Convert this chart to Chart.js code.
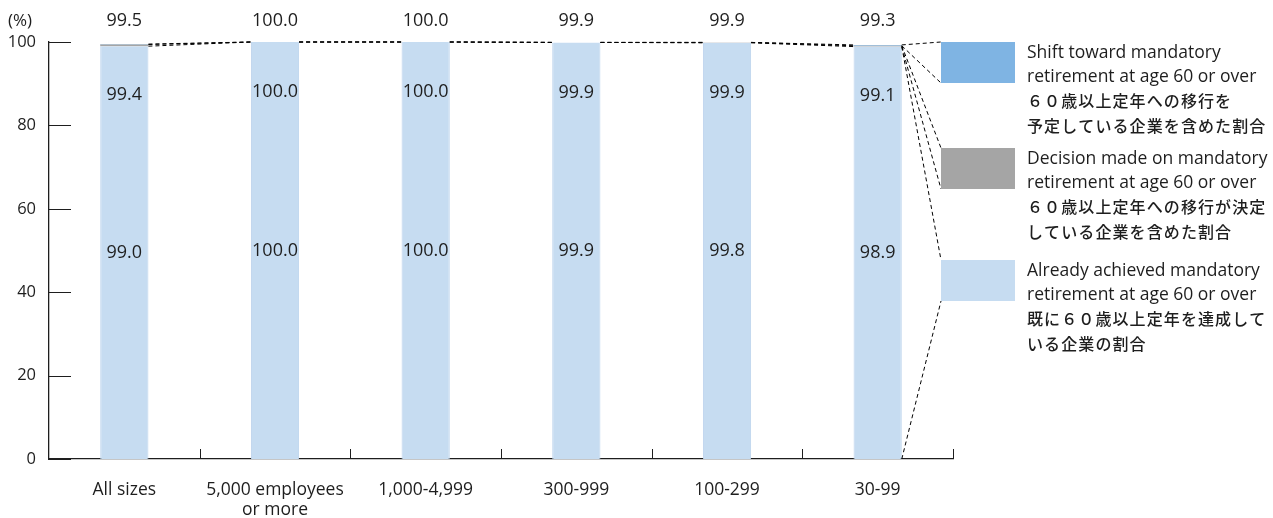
<!DOCTYPE html>
<html>
<head>
<meta charset="utf-8">
<script src="https://cdn.jsdelivr.net/npm/chart.js@4.4.1/dist/chart.umd.min.js"></script>
<style>
  html, body { margin: 0; padding: 0; background: #ffffff; }
  #wrap { width: 1273px; height: 518px; position: relative; }
</style>
</head>
<body>
<div id="wrap"><canvas id="chart" width="1273" height="518"></canvas></div>
<script>
// Company size categories
const categories = ['All sizes', ['5,000 employees', 'or more'], '1,000-4,999', '300-999', '100-299', '30-99'];

// Share of companies (%), cumulative as published
const achieved     = [99.0, 100.0, 100.0, 99.9, 99.8, 98.9]; // already at 60 or over
const decidedTotal = [99.4, 100.0, 100.0, 99.9, 99.9, 99.1]; // incl. decision made
const shiftTotal   = [99.5, 100.0, 100.0, 99.9, 99.9, 99.3]; // incl. planned shift

// Stack increments derived from the cumulative figures
const decidedPart = decidedTotal.map((v, i) => +(v - achieved[i]).toFixed(1));
const shiftPart   = shiftTotal.map((v, i) => +(v - decidedTotal[i]).toFixed(1));

const yTicks = [0, 20, 40, 60, 80, 100];

const legendText = {
  shift:    ['Shift toward mandatory', 'retirement at age 60 or over', '６０歳以上定年への移行を', '予定している企業を含めた割合'],
  decided:  ['Decision made on mandatory', 'retirement at age 60 or over', '６０歳以上定年への移行が決定', 'している企業を含めた割合'],
  achieved: ['Already achieved mandatory', 'retirement at age 60 or over', '既に６０歳以上定年を達成して', 'いる企業の割合']
};

const COL_LIGHT = '#c6dcf1';
const COL_GREY  = '#a5a5a5';
const COL_BLUE  = '#7fb4e3';
const INK = '#1e1e1e';
const LATIN = '"Open Sans", "Noto Sans", sans-serif';
const CJK = '"Noto Sans CJK JP", "Noto Sans", sans-serif';

function isCJK(s) { return /[\u3000-\u9fff\uff00-\uffef]/.test(s); }

const decorPlugin = {
  id: 'decor',
  afterDatasetsDraw(chart) {
    const ctx = chart.ctx;
    const area = chart.chartArea;
    const ys = chart.scales.y;
    const metas = [0, 1, 2].map(k => chart.getDatasetMeta(k));
    const n = categories.length;
    ctx.save();

    // dashed connectors between neighbouring bars at each stack boundary
    ctx.strokeStyle = '#000';
    ctx.lineWidth = 1;
    ctx.setLineDash([4, 3]);
    for (let i = 0; i < n - 1; i++) {
      for (let k = 0; k < 3; k++) {
        const a = metas[k].data[i], b = metas[k].data[i + 1];
        ctx.beginPath();
        ctx.moveTo(a.x + a.width / 2, a.y);
        ctx.lineTo(b.x - b.width / 2, b.y);
        ctx.stroke();
      }
    }

    // legend boxes and the fan of dashed lines from the last bar
    const boxX = area.right - 12, boxW = 74, boxH = 41;
    const boxTops = [area.top, area.top + 106, area.top + 218];
    const last = n - 1;
    const barR = metas[0].data[last].x + metas[0].data[last].width / 2;
    const yShift = metas[2].data[last].y;
    const yDec = metas[1].data[last].y;
    const yAch = metas[0].data[last].y;
    const y0 = ys.getPixelForValue(0);
    const fan = [
      [yShift, boxTops[0]], [yDec, boxTops[0] + boxH],
      [yDec, boxTops[1]], [yAch, boxTops[1] + boxH],
      [yAch, boxTops[2]], [y0, boxTops[2] + boxH]
    ];
    fan.forEach(([from, to]) => {
      ctx.beginPath();
      ctx.moveTo(barR, from);
      ctx.lineTo(boxX, to);
      ctx.stroke();
    });
    ctx.setLineDash([]);

    const entries = [
      [chart.data.datasets[2].backgroundColor, legendText.shift],
      [chart.data.datasets[1].backgroundColor, legendText.decided],
      [chart.data.datasets[0].backgroundColor, legendText.achieved]
    ];
    entries.forEach(([col, lines], j) => {
      ctx.fillStyle = col;
      ctx.fillRect(boxX, boxTops[j], boxW, boxH);
      lines.forEach((t, li) => {
        const cjk = isCJK(t);
        ctx.font = cjk ? '500 16px ' + CJK : '17.5px ' + LATIN;
        ctx.letterSpacing = cjk ? '1.1px' : '0px';
        ctx.fillStyle = INK;
        ctx.textAlign = 'left';
        ctx.textBaseline = 'middle';
        ctx.fillText(t, boxX + 86, boxTops[j] + 11 + li * 24.2);
      });
    });
    ctx.letterSpacing = '0px';

    // value labels
    ctx.font = '18px ' + LATIN;
    ctx.fillStyle = INK;
    ctx.textAlign = 'center';
    ctx.textBaseline = 'middle';
    for (let i = 0; i < n; i++) {
      const x = metas[0].data[i].x;
      ctx.fillText(shiftTotal[i].toFixed(1), x, area.top - 21);
      ctx.fillText(decidedTotal[i].toFixed(1), x, metas[1].data[i].y + 50);
      ctx.fillText(achieved[i].toFixed(1), x, ys.getPixelForValue(achieved[i] / 2));
    }

    // unit
    ctx.font = '17px ' + LATIN;
    ctx.textAlign = 'left';
    ctx.fillText('(%)', 8, area.top - 21);

    // axes: y tick marks point inward, x tick marks point up at category boundaries
    ctx.strokeStyle = INK;
    ctx.lineWidth = 1;
    yTicks.forEach(v => {
      const y = Math.round(ys.getPixelForValue(v)) + 0.5;
      ctx.beginPath();
      ctx.moveTo(area.left, y);
      ctx.lineTo(area.left + 22, y);
      ctx.stroke();
    });
    const xs = chart.scales.x;
    for (let i = 0; i < n; i++) {
      const bx = i < n - 1 ? (xs.getPixelForValue(i) + xs.getPixelForValue(i + 1)) / 2 : area.right;
      const px = Math.round(bx) + 0.5;
      ctx.beginPath();
      ctx.moveTo(px, area.bottom);
      ctx.lineTo(px, area.bottom - 10);
      ctx.stroke();
    }
    ctx.restore();
  }
};

new Chart(document.getElementById('chart'), {
  type: 'bar',
  data: {
    labels: categories,
    datasets: [
      { label: 'Already achieved', data: achieved, backgroundColor: COL_LIGHT, borderColor: '#bcd3ec', borderWidth: { left: 1, right: 1, top: 0, bottom: 0 } },
      { label: 'Decision made', data: decidedPart, backgroundColor: COL_GREY, borderWidth: 0 },
      { label: 'Shift toward', data: shiftPart, backgroundColor: COL_BLUE, borderWidth: 0 }
    ]
  },
  options: {
    responsive: false,
    animation: false,
    events: [],
    layout: { padding: { left: 0, right: 320, top: 42, bottom: 0 } },
    datasets: { bar: { categoryPercentage: 1, barPercentage: 0.32 } },
    plugins: { legend: { display: false }, tooltip: { enabled: false } },
    scales: {
      x: {
        stacked: true,
        grid: { display: false, drawTicks: false },
        border: { display: true, color: INK, width: 1.3 },
        ticks: { color: INK, font: { family: LATIN, size: 17.5, lineHeight: 1.15 }, padding: 21, maxRotation: 0, autoSkip: false },
        afterFit(s) { s.height = 59; }
      },
      y: {
        stacked: true,
        min: 0, max: 100,
        afterBuildTicks(s) { s.ticks = yTicks.map(v => ({ value: v })); },
        grid: { display: false, drawTicks: false },
        border: { display: true, color: INK, width: 1.3 },
        ticks: { color: INK, font: { family: LATIN, size: 16.5 }, padding: 13 },
        afterFit(s) { s.width = 49; }
      }
    }
  },
  plugins: [decorPlugin]
});
</script>
</body>
</html>
